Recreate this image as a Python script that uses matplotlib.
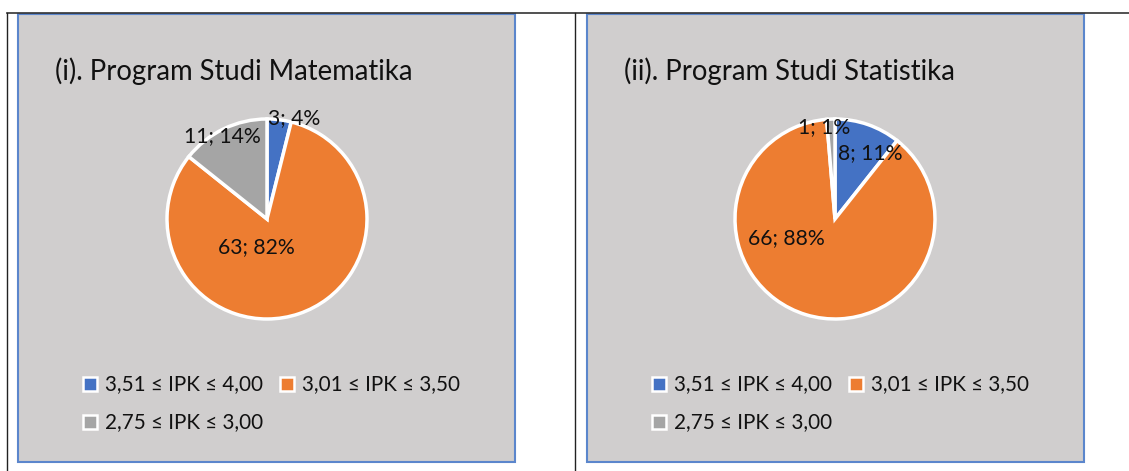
import matplotlib
matplotlib.use("Agg")
import matplotlib.pyplot as plt
from matplotlib.patches import Rectangle
import numpy as np

plt.rcParams['font.family'] = ['Lato', 'DejaVu Sans']

# ---- data ----
categories = ["3,51 \u2264 IPK \u2264 4,00", "3,01 \u2264 IPK \u2264 3,50", "2,75 \u2264 IPK \u2264 3,00"]
titles = ["(i). Program Studi Matematika", "(ii). Program Studi Statistika"]
matematika = [3, 63, 11]
statistika = [8, 66, 1]
pct_mat = [4, 82, 14]
pct_stat = [11, 88, 1]

colors = ["#4472C4", "#ED7D31", "#A5A5A5"]
BG = "#D0CECE"
BORDER = "#5B86CC"

W, H = 1129, 471
fig = plt.figure(figsize=(W / 100, H / 100), dpi=100)
ax = fig.add_axes([0, 0, 1, 1])
ax.set_xlim(0, W)
ax.set_ylim(0, H)
ax.axis("off")

def Y(y):
    return H - y

# table lines
ax.plot([7, W], [Y(13), Y(13)], color="#333333", lw=1.2)
ax.plot([7, 7], [Y(13), Y(H)], color="#222222", lw=1.0)
ax.plot([575, 575], [Y(13), Y(H)], color="#222222", lw=1.0)

# label placement (angle deg, radius fraction) per slice
label_place = [
    [(75, 1.04), (250, 0.30), (118.5, 0.94)],
    [(62, 0.75), (201.6, 0.52), (96.8, 0.93)],
]

panels = [
    dict(x0=18, x1=515, cx=267, cy=219, vals=matematika, pcts=pct_mat),
    dict(x0=587, x1=1084, cx=835, cy=219, vals=statistika, pcts=pct_stat),
]
R = 100

for i, p in enumerate(panels):
    ax.add_patch(Rectangle((p["x0"], Y(462)), p["x1"] - p["x0"], 462 - 14,
                           facecolor=BG, edgecolor=BORDER, lw=1.5, zorder=1))
    ax.text(p["x0"] + 37, Y(71), titles[i], fontsize=19.8, va="center", ha="left",
            color="#111111", zorder=3)
    ax.pie(p["vals"], colors=colors, startangle=90, counterclock=False,
           center=(p["cx"], Y(p["cy"])), radius=R, frame=True,
           wedgeprops=dict(edgecolor="white", linewidth=2.5, zorder=2))
    for j, (v, pc) in enumerate(zip(p["vals"], p["pcts"])):
        ang, rf = label_place[i][j]
        tx = p["cx"] + rf * R * np.cos(np.radians(ang))
        ty = Y(p["cy"]) + rf * R * np.sin(np.radians(ang))
        ax.text(tx, ty, f"{v}; {pc}%", fontsize=15.2, ha="center", va="center",
                color="#111111", zorder=4)
    # legend
    leg_pos = [(p["x0"] + 72, 384), (p["x0"] + 269, 384), (p["x0"] + 72, 422)]
    for j, (lx, ly) in enumerate(leg_pos):
        ax.add_patch(Rectangle((lx - 7, Y(ly) - 7), 14, 14, facecolor=colors[j],
                               edgecolor="white", lw=1.8, zorder=3))
        ax.text(lx + 15, Y(ly), categories[j], fontsize=14.9, ha="left", va="center",
                color="#111111", zorder=3)

ax.set_xlim(0, W)
ax.set_ylim(0, H)
ax.set_aspect("auto")
fig.savefig("out.png", dpi=100, facecolor="white")
